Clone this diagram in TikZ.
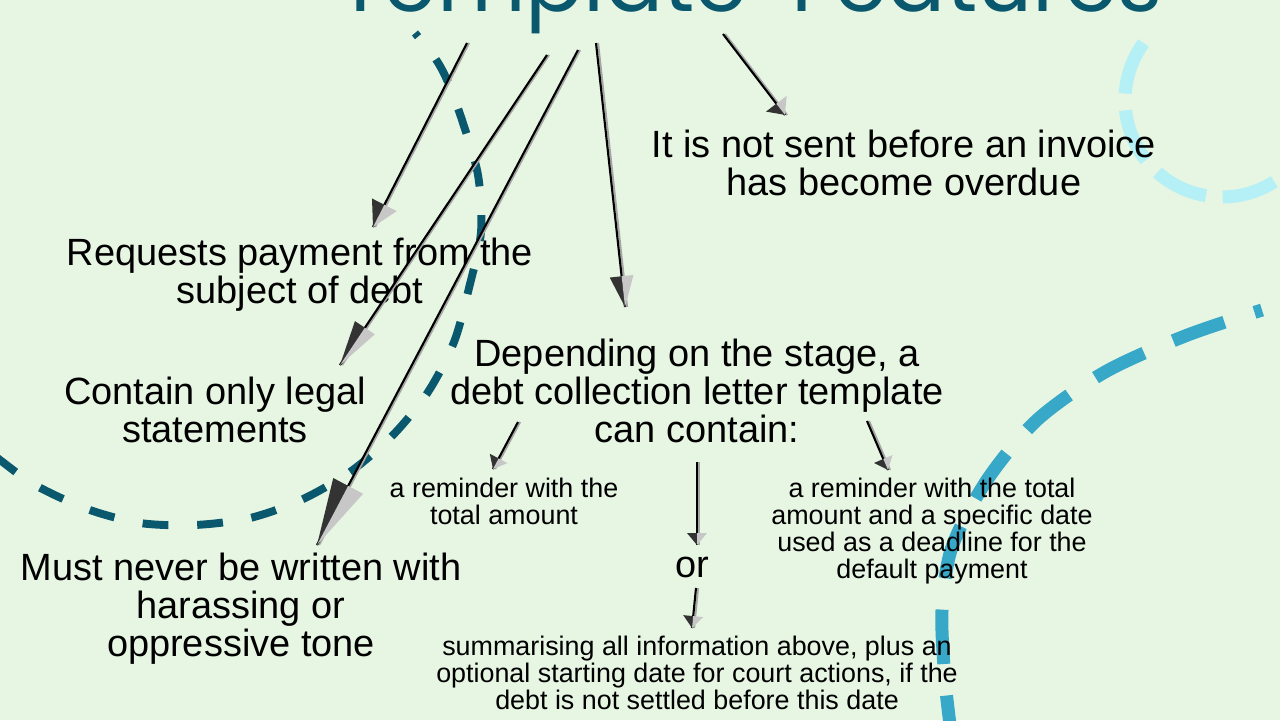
\documentclass[tikz,border=0pt]{standalone}
\usepackage{fontspec}
\setmainfont{Liberation Sans}
\newfontfamily\titlefont{Poppins}
\usetikzlibrary{arrows.meta,calc,decorations.markings}
\definecolor{paper}{RGB}{231,245,227}
\definecolor{deepteal}{RGB}{10,88,110}
\definecolor{paleaqua}{RGB}{180,240,246}
\definecolor{seablue}{RGB}{56,168,200}
\tikzset{
  % Statement text: large, centred, placed by last baseline
  bigtxt/.style={anchor=base, align=center, inner sep=0pt,
                 font=\fontsize{21.6}{21.5}\selectfont},
  % Option text under the stage statement
  smalltxt/.style={anchor=base, align=center, inner sep=0pt,
                   font=\fontsize{15.3}{15.3}\selectfont},
  % Heading, mostly above the frame
  titletxt/.style={anchor=base, inner sep=0pt, text=deepteal,
                   font=\titlefont\fontsize{49}{49}\selectfont},
  % Decorative dashed strokes
  swirl/.style={line width=4.5pt, deepteal, dash pattern=on 14.7pt off 16.4pt},
  ring/.style={line width=7.4pt, paleaqua, dash pattern=on 31pt off 9.6pt},
  wave/.style={line width=7.4pt, seablue, dash pattern=on 31pt off 18pt},
  % Arrow: black shaft with grey shadow, two-tone head {length}{half width}
  flowarr/.style 2 args={line width=1.2pt, black,
    preaction={draw=black!35, line width=1.1pt, transform canvas={xshift=1.2pt}},
    postaction={decorate, decoration={markings, mark=at position 1 with {
      \fill[black!80] (0pt,0pt) -- (-#1,-#2) -- (-#1,0pt) -- cycle;
      \fill[black!22] (0pt,0pt) -- (-#1,0pt) -- (-#1,#2) -- cycle;}}}}
}

\begin{document}
\begin{tikzpicture}[x=0.02cm, y=-0.02cm]

\useasboundingbox (0,0) rectangle (1280,720);
\clip (0,0) rectangle (1280,720);
\fill[paper] (0,0) rectangle (1280,720);

% Decorative dashed strokes (behind the text)
\draw[swirl, dash phase=12pt] plot[smooth] coordinates {(415,33) (435,58) (447,80) (462,120) (478,175) (481,232) (469,288) (454,342) (428,392) (393,435) (350,472) (301,500) (250,518) (195,525) (140,523) (87,509) (35,485) (0,460) (-12,450)};
\draw[ring] plot[domain=216:-10, samples=80, smooth] ({1222+97*cos(\x)},{100+97*sin(\x)});
\draw[wave, dash phase=26.5pt] plot[smooth] coordinates {(1262,310) (1185,336) (1105,372) (1037,420) (987,480) (952,547) (942,610) (945,680) (952,740)};

% Heading
\node[titletxt] (title) at (750,11) {Template\hspace{0.5em}Features};

% Statements
\node[bigtxt] (notsent) at (904,195) {It is not sent before an invoice\\has become overdue};
\node[bigtxt] (request) at (300,303) {Requests payment from the\\subject of debt};
\node[bigtxt] (legal) at (215,442) {Contain only legal\\statements};
\node[bigtxt] (depend) at (697,442) {Depending on the stage, a\\debt collection letter template\\can contain:};
\node[bigtxt] (never) at (241,656) {Must never be written with\\harassing or\\oppressive tone};
\node[bigtxt] (orword) at (692,577) {or};

% Options
\node[smalltxt] (remind) at (504,524) {a reminder with the\\total amount};
\node[smalltxt] (remindb) at (932,578) {a reminder with the total\\amount and a specific date\\used as a deadline for the\\default payment};
\node[smalltxt] (summ) at (697,709) {summarising all information above, plus an\\optional starting date for court actions, if the\\debt is not settled before this date};

% Arrows from the heading
\draw[flowarr={14.2pt}{7.9pt}] ($(title.base)+(-283,32)$) -- ($(request.base)+(73,-76)$);
\draw[flowarr={25.5pt}{6.8pt}] ($(title.base)+(-203,44)$) -- ($(legal.base)+(125,-77)$);
\draw[flowarr={38pt}{9.6pt}] ($(title.base)+(-172,39)$) -- ($(never.base)+(76,-111)$);
\draw[flowarr={17.6pt}{6.8pt}] ($(title.base)+(-154,32)$) -- ($(depend.base)+(-72,-135)$);
\draw[flowarr={8pt}{7.4pt}] ($(title.base)+(-27,23)$) -- ($(notsent.base)+(-119,-80)$);

% Arrows to the options
\draw[flowarr={6.8pt}{5.7pt}] ($(depend.base)+(-179,-20)$) -- ($(remind.base)+(-11,-55)$);
\draw[flowarr={6.8pt}{5.7pt}] ($(depend.base)+(0,20)$) -- ($(orword.base)+(5,-32)$);
\draw[flowarr={6.8pt}{5.7pt}] ($(depend.base)+(170,-21)$) -- ($(remindb.base)+(-44,-108)$);
\draw[flowarr={6.8pt}{5.7pt}] ($(orword.base)+(4,11)$) -- ($(summ.base)+(-5,-81)$);

\end{tikzpicture}
\end{document}
